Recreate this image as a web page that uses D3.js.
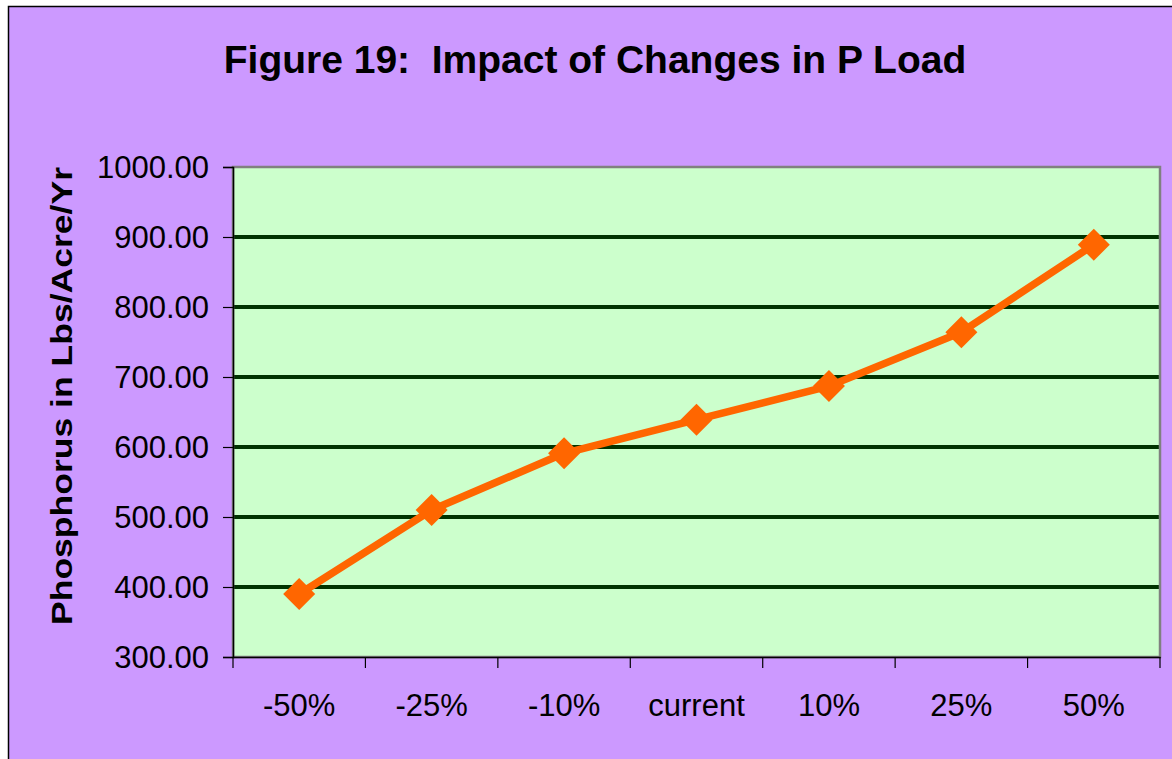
<!DOCTYPE html>
<html>
<head>
<meta charset="utf-8">
<script src="https://cdnjs.cloudflare.com/ajax/libs/d3/7.8.5/d3.min.js"></script>
<style>
  html, body { margin: 0; padding: 0; background: #fff; }
  text { font-family: "Liberation Sans", Arial, sans-serif; fill: #000; }
</style>
</head>
<body>
<script>
"use strict"

// Data
const categories = ["-50%", "-25%", "-10%", "current", "10%", "25%", "50%"]
const phosphorus = [390, 510, 591, 639, 687, 764, 889]
const yTicks = [300, 400, 500, 600, 700, 800, 900, 1000]

const width = 1172
const height = 759
const plot = { left: 233, right: 1160, top: 167, bottom: 657 }

const svg = d3.select("body").append("svg")
  .attr("width", width)
  .attr("height", height)

// Outer chart area
svg.append("rect")
  .attr("x", 8.5).attr("y", 6.5)
  .attr("width", width + 10).attr("height", height + 10)
  .attr("fill", "#CC99FF")
  .attr("stroke", "#000")
  .attr("stroke-width", 1.5)

const x = d3.scaleBand().domain(categories).range([plot.left, plot.right])
const y = d3.scaleLinear().domain([300, 1000]).range([plot.bottom, plot.top])

// Plot area
svg.append("rect")
  .attr("x", plot.left).attr("y", plot.top)
  .attr("width", plot.right - plot.left).attr("height", plot.bottom - plot.top)
  .attr("fill", "#CCFFCC")

// Gridlines
svg.append("g")
  .selectAll("line")
  .data(yTicks.filter(t => t > 300 && t < 1000))
  .join("line")
  .attr("x1", plot.left).attr("x2", plot.right)
  .attr("y1", d => y(d)).attr("y2", d => y(d))
  .attr("stroke", "#003300")
  .attr("stroke-width", 4)

// Plot border
svg.append("rect")
  .attr("x", plot.left).attr("y", plot.top)
  .attr("width", plot.right - plot.left).attr("height", plot.bottom - plot.top)
  .attr("fill", "none")
  .attr("stroke", "#808080")
  .attr("stroke-width", 2.5)

// Y axis
const yAxis = svg.append("g")
  .attr("transform", `translate(${plot.left},0)`)
  .call(d3.axisLeft(y).tickValues(yTicks).tickFormat(d3.format(".2f")).tickSize(10).tickPadding(14))
yAxis.select(".domain").attr("stroke", "#000").attr("stroke-width", 1.5)
yAxis.selectAll(".tick line").attr("stroke", "#000").attr("stroke-width", 1.2)
yAxis.selectAll(".tick text")
  .style("font-size", "31px")
  .attr("fill", "#000")
  .attr("dy", "0.35em")

// X axis
const xAxis = svg.append("g")
  .attr("transform", `translate(0,${plot.bottom})`)
  .call(d3.axisBottom(x).tickSize(0).tickPadding(37))
xAxis.select(".domain").attr("stroke", "#000").attr("stroke-width", 1.5)
xAxis.selectAll(".tick text")
  .style("font-size", "31px")
  .attr("fill", "#000")

// x tick marks on band edges
xAxis.selectAll(".edge")
  .data(categories.concat(["end"]))
  .join("line")
  .attr("class", "edge")
  .attr("x1", (d, i) => plot.left + i * x.step())
  .attr("x2", (d, i) => plot.left + i * x.step())
  .attr("y1", 0).attr("y2", 11)
  .attr("stroke", "#000")
  .attr("stroke-width", 1.2)

// Line
const cx = d => x(d) + x.bandwidth() / 2
const pts = categories.map((c, i) => [cx(c), y(phosphorus[i])])
svg.append("path")
  .attr("d", d3.line()(pts))
  .attr("fill", "none")
  .attr("stroke", "#FF6600")
  .attr("stroke-width", 7.5)
  .attr("stroke-linejoin", "round")

// Diamond markers
svg.append("g")
  .selectAll("path")
  .data(pts)
  .join("path")
  .attr("transform", d => `translate(${d[0]},${d[1]})`)
  .attr("d", "M0,-16L16,0L0,16L-16,0Z")
  .attr("fill", "#FF6600")

// Title
svg.append("text")
  .attr("x", 595).attr("y", 73)
  .attr("text-anchor", "middle")
  .style("font-size", "39px")
  .style("font-weight", "bold")
  .style("white-space", "pre")
  .attr("xml:space", "preserve")
  .text("Figure 19:  Impact of Changes in P Load")

// Y axis title
svg.append("text")
  .attr("transform", "translate(72,396) rotate(-90)")
  .attr("text-anchor", "middle")
  .style("font-size", "30px")
  .style("font-weight", "bold")
  .attr("textLength", 458)
  .attr("lengthAdjust", "spacingAndGlyphs")
  .text("Phosphorus in Lbs/Acre/Yr")
</script>
</body>
</html>
